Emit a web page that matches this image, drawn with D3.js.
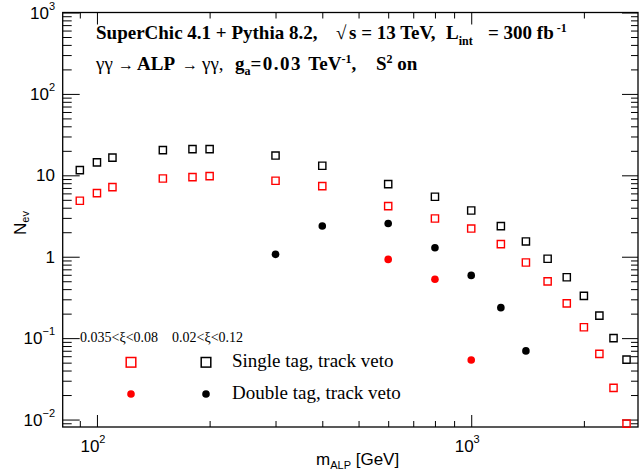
<!DOCTYPE html>
<html>
<head>
<meta charset="utf-8">
<script src="https://cdn.jsdelivr.net/npm/d3@7"></script>
<style>
  body { margin: 0; background: #fff; }
  svg { display: block; }
  .tick line { stroke: #000; stroke-width: 1; }
</style>
</head>
<body>
<div id="chart"></div>
<script>
// ALP masses (GeV) and expected event counts
const masses = [90, 100, 110, 150, 180, 200, 300, 400, 600, 800, 1000, 1200, 1400, 1600, 1800, 2000, 2200, 2400, 2600];
const singleWide = [11.6, 14.4, 16.5, 20.4, 21, 21, 17.5, 13.1, 7.8, 5.45, 3.7, 2.38, 1.54, 0.945, 0.56, 0.33, 0.189, 0.100, 0.0545];
const singleNarrow = [4.87, 6.05, 7.17, 9.14, 9.5, 9.78, 8.57, 7.37, 4.19, 2.95, 2.22, 1.43, 0.85, 0.498, 0.267, 0.136, 0.064, 0.0245, 0.0089];
const doubleWideMasses = [300, 400, 600, 800, 1000, 1200, 1400];
const doubleWide = [1.07, 2.38, 2.56, 1.29, 0.59, 0.237, 0.0697];
const doubleNarrowMasses = [600, 800, 1000];
const doubleNarrow = [0.927, 0.53, 0.054];

const xiLabels = ['0.035<\u03be<0.08', '0.02<\u03be<0.12'];
const seriesLabels = ['Single tag, track veto', 'Double tag, track veto'];
const xTickLabels = [{v: 100, base: '10', exp: '2'}, {v: 1000, base: '10', exp: '3'}];
const yTickLabels = [
  {v: 1000, base: '10', exp: '3'}, {v: 100, base: '10', exp: '2'},
  {v: 10, base: '10', exp: ''}, {v: 1, base: '1', exp: ''},
  {v: 0.1, base: '10', exp: '\u22121'}, {v: 0.01, base: '10', exp: '\u22122'}
];

const W = 639, H = 476;
let margin = {top: 12.5, left: 62.7, right: 1, bottom: 49},
  width = W - margin.left - margin.right,
  height = H - margin.top - margin.bottom;

const svg = d3.select('#chart').append('svg')
  .attr('width', W).attr('height', H);
const g = svg.append('g')
  .attr('transform', 'translate(' + margin.left + ',' + margin.top + ')');

const x = d3.scaleLog().domain([81, 2790]).range([0, width]);
const y = d3.scaleLog().domain([0.0081, 1000]).range([height, 0]);

const isMajor = v => Math.abs(Math.log10(v) - Math.round(Math.log10(v))) < 1e-9;
const xMinor = x.ticks().filter(v => !isMajor(v)), xMajor = x.ticks().filter(isMajor);
const yMinor = y.ticks().filter(v => !isMajor(v)), yMajor = y.ticks().filter(isMajor);

// ticks on all four sides, pointing inward
function ticks(axisFn, scale, vals, size, tr) {
  g.append('g').attr('transform', tr)
    .call(axisFn(scale).tickValues(vals).tickSize(size).tickFormat(''))
    .call(s => s.select('.domain').remove());
}
ticks(d3.axisBottom, x, xMinor, -6, 'translate(0,' + height + ')');
ticks(d3.axisBottom, x, xMajor, -12, 'translate(0,' + height + ')');
ticks(d3.axisTop, x, xMinor, -6, 'translate(0,0)');
ticks(d3.axisTop, x, xMajor, -12, 'translate(0,0)');
ticks(d3.axisLeft, y, yMinor, -9, 'translate(0,0)');
ticks(d3.axisLeft, y, yMajor, -17, 'translate(0,0)');
ticks(d3.axisRight, y, yMinor, -7, 'translate(' + width + ',0)');
ticks(d3.axisRight, y, yMajor, -16, 'translate(' + width + ',0)');

// frame
g.append('rect').attr('width', width).attr('height', height)
  .attr('fill', 'none').attr('stroke', '#000').attr('stroke-width', 1.3);

// tick labels
const lab = svg.append('g').style('font-family', '"Liberation Sans", Arial, sans-serif');
xTickLabels.forEach(d => {
  let t = lab.append('text').attr('x', margin.left + x(d.v) - 4).attr('y', 452)
    .attr('text-anchor', 'middle').style('font-size', '17px');
  t.append('tspan').text(d.base);
  t.append('tspan').attr('dy', -9).style('font-size', '11px').text(d.exp);
});
yTickLabels.forEach(d => {
  let t = lab.append('text').attr('x', 55).attr('y', margin.top + y(d.v) + 6)
    .attr('text-anchor', 'end').style('font-size', '17px');
  t.append('tspan').text(d.base);
  if (d.exp) t.append('tspan').attr('dy', -9).style('font-size', '11px').text(d.exp);
});

// axis titles
let xt = lab.append('text').attr('x', 316).attr('y', 465).style('font-size', '17px');
xt.append('tspan').text('m');
xt.append('tspan').attr('dy', 4).style('font-size', '11px').text('ALP');
xt.append('tspan').attr('dy', -4).text(' [GeV]');

let yt = lab.append('text').attr('transform', 'translate(26,211) rotate(-90)')
  .attr('text-anchor', 'end').style('font-size', '17px');
yt.append('tspan').text('N');
yt.append('tspan').attr('dy', 3).style('font-size', '11px').text('ev');

// data markers
const sq = d3.symbol().type(d3.symbolSquare).size(52);
function squares(xs, ys, color) {
  g.append('g').selectAll('path').data(xs.map((m, i) => [m, ys[i]]))
    .enter().append('path')
      .attr('d', sq)
      .attr('transform', d => 'translate(' + x(d[0]) + ',' + y(d[1]) + ')')
      .attr('fill', 'none').attr('stroke', color).attr('stroke-width', 1.4);
}
function dots(xs, ys, color) {
  g.append('g').selectAll('circle').data(xs.map((m, i) => [m, ys[i]]))
    .enter().append('circle')
      .attr('cx', d => x(d[0])).attr('cy', d => y(d[1])).attr('r', 3.8)
      .attr('fill', color);
}
squares(masses, singleWide, '#000');
squares(masses, singleNarrow, '#ff0000');
dots(doubleWideMasses, doubleWide, '#000');
dots(doubleNarrowMasses, doubleNarrow, '#ff0000');

// header text
const hdr = svg.append('g').style('font-family', '"Liberation Serif", "Times New Roman", serif')
  .style('font-weight', 'bold');
let l1 = hdr.append('text').attr('x', 96).attr('y', 39).style('font-size', '19px');
l1.append('tspan').text('SuperChic 4.1 + Pythia 8.2,');
l1.append('tspan').attr('x', 336).style('font-weight', 'normal').text('\u221a');
l1.append('tspan').attr('x', 349).text('s = 13 TeV,');
l1.append('tspan').attr('x', 446).text('L');
l1.append('tspan').attr('dy', 6).style('font-size', '12px').text('int');
l1.append('tspan').attr('x', 488).attr('dy', -6).text('= 300 fb');
l1.append('tspan').attr('dy', -7).style('font-size', '12px').text(' -1');

let l2 = hdr.append('text').attr('x', 96).attr('y', 70).style('font-size', '19px');
l2.append('tspan').style('font-weight', 'normal').text('\u03b3\u03b3');
l2.append('tspan').attr('x', 118).style('font-weight', 'normal').style('font-size', '16px').text('\u2192');
l2.append('tspan').attr('x', 137).text('ALP');
l2.append('tspan').attr('x', 182).style('font-weight', 'normal').style('font-size', '16px').text('\u2192');
l2.append('tspan').attr('x', 202).style('font-weight', 'normal').text('\u03b3\u03b3,');
l2.append('tspan').attr('x', 235).text('g');
l2.append('tspan').attr('dy', 5).style('font-size', '12px').text('a');
l2.append('tspan').attr('dy', -5).style('letter-spacing', '1.5px').text('=0.03 ');
l2.append('tspan').text('TeV');
l2.append('tspan').attr('dy', -7).style('font-size', '12px').text('-1');
l2.append('tspan').attr('dy', 7).text(',');
l2.append('tspan').attr('x', 376).text('S');
l2.append('tspan').attr('dy', -7).style('font-size', '12px').text('2');
l2.append('tspan').attr('dy', 7).text(' on');

// legend
const leg = svg.append('g').style('font-family', '"Liberation Serif", "Times New Roman", serif');
const legX = [131, 206], legColors = ['#ff0000', '#000'];
xiLabels.forEach((t, i) => {
  leg.append('text').attr('x', [80, 172][i]).attr('y', 342).style('font-size', '14px').text(t);
});
legX.forEach((lx, i) => {
  leg.append('rect').attr('x', lx - 4.8).attr('y', 357.5).attr('width', 9.6).attr('height', 9.6)
    .attr('fill', 'none').attr('stroke', legColors[i]).attr('stroke-width', 1.5);
  leg.append('circle').attr('cx', lx).attr('cy', 394).attr('r', 3.8).attr('fill', legColors[i]);
});
seriesLabels.forEach((t, i) => {
  leg.append('text').attr('x', 232).attr('y', 367 + i * 32).style('font-size', '19px').text(t);
});
</script>
</body>
</html>
